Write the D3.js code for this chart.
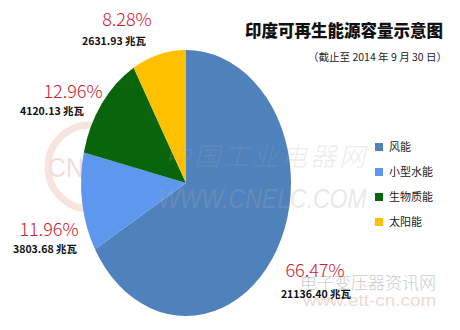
<!DOCTYPE html>
<html lang="zh">
<head>
  <meta charset="UTF-8">
  <title>印度可再生能源容量示意图</title>
  <style>
    body { margin: 0; background: #fff; }
    svg { display: block; }
  </style>
</head>
<body>
  <svg width="460" height="330"></svg>
  <script src="https://cdn.jsdelivr.net/npm/d3@7/dist/d3.min.js"></script>
  <script>
    // 数据
    var categories = ["风能", "小型水能", "生物质能", "太阳能"];
    var capacity = [21136.40, 3803.68, 4120.13, 2631.93];   // 兆瓦
    var shares = [66.47, 11.96, 12.96, 8.28];                // %
    var colors = ["#4f81bd", "#5e97ee", "#09650b", "#ffc000"];

    // 标签位置 (百分比文字中心, 数值文字中心)
    var labelPos = [
      { px: 315, py: 277, vx: 316, vy: 298 },
      { px: 49, py: 236, vx: 45, vy: 253 },
      { px: 73, py: 98, vx: 52, vy: 115 },
      { px: 127, py: 26, vx: 114, vy: 45 }
    ];

    var svg = d3.select("svg");
    var cx = 186, cy = 183, rx = 105, ry = 133;

    var data = categories.map(function (c, i) {
      return { name: c, cap: capacity[i], share: shares[i], color: colors[i] };
    });

    // 水印 logo
    var wm = svg.append("g").attr("class", "watermark");
    wm.append("circle").attr("cx", 90).attr("cy", 167).attr("r", 42)
      .attr("fill", "none").attr("stroke", "#f8e4df").attr("stroke-width", 7);
    wm.append("text").attr("x", 90).attr("y", 177).attr("text-anchor", "middle")
      .attr("font-family", "Liberation Sans, sans-serif").attr("font-size", 27)
      .attr("textLength", 84).attr("lengthAdjust", "spacingAndGlyphs")
      .attr("fill", "#f4ddd7").text("CNELC");

    // 饼图 (纵向拉伸的椭圆)
    var pie = d3.pie().sort(null).value(function (d) { return d.share; });
    var arc = d3.arc().innerRadius(0).outerRadius(ry);

    var g = svg.append("g")
      .attr("transform", "translate(" + cx + "," + cy + ") scale(" + (rx / ry) + ",1)");

    g.selectAll("path")
      .data(pie(data))
      .enter()
      .append("path")
      .attr("d", arc)
      .attr("fill", function (d) { return d.data.color; });

    // 水印 (覆盖在饼图上)
    wm = svg.append("g").attr("pointer-events", "none");
    wm.append("text").attr("x", 165).attr("y", 166)
      .attr("font-family", "Noto Sans CJK SC").attr("font-size", 26).attr("font-style", "italic")
      .attr("font-weight", 300).attr("letter-spacing", 3)
      .attr("fill", "#aaa").attr("opacity", 0.22).text("中国工业电器网");
    wm.append("text")
      .attr("transform", "translate(158,208) scale(1,1.22)")
      .attr("font-family", "Liberation Sans, sans-serif").attr("font-size", 23).attr("font-style", "italic")
      .attr("fill", "#aaa").attr("opacity", 0.25).text("WWW.CNELC.COM");
    wm.append("text").attr("x", 300).attr("y", 289)
      .attr("font-family", "Noto Sans CJK SC").attr("font-size", 17).attr("font-weight", 300)
      .attr("fill", "#999").attr("opacity", 0.5).text("电子变压器资讯网");
    wm.append("text")
      .attr("transform", "translate(303,306) scale(1.18,1)")
      .attr("font-family", "Liberation Sans, sans-serif").attr("font-size", 16)
      .attr("fill", "#e7b7bb").attr("opacity", 0.55).text("www.ett-cn.com");

    // 标签
    var labels = svg.append("g");
    labels.selectAll(".pct")
      .data(data)
      .enter()
      .append("text")
      .attr("class", "pct")
      .attr("x", function (d, i) { return labelPos[i].px; })
      .attr("y", function (d, i) { return labelPos[i].py; })
      .attr("text-anchor", "middle")
      .attr("font-family", "Noto Sans CJK SC")
      .attr("font-weight", 300)
      .attr("font-size", 18)
      .attr("fill", "#cf2030")
      .text(function (d) { return d.share.toFixed(2) + "%"; });

    labels.selectAll(".val")
      .data(data)
      .enter()
      .append("text")
      .attr("class", "val")
      .attr("x", function (d, i) { return labelPos[i].vx; })
      .attr("y", function (d, i) { return labelPos[i].vy; })
      .attr("text-anchor", "middle")
      .attr("font-family", "Noto Sans CJK SC")
      .attr("font-weight", "bold")
      .attr("font-size", 10.5)
      .attr("fill", "#111")
      .text(function (d) { return d.cap.toFixed(2) + " 兆瓦"; });

    // 标题
    svg.append("text")
      .attr("x", 443).attr("y", 37)
      .attr("text-anchor", "end")
      .attr("font-family", "Noto Sans CJK SC")
      .attr("font-weight", 900)
      .attr("font-size", 16.5)
      .attr("fill", "#111")
      .text("印度可再生能源容量示意图");
    svg.append("text")
      .attr("x", 447).attr("y", 61)
      .attr("text-anchor", "end")
      .attr("font-family", "Noto Sans CJK SC")
      .attr("font-size", 10.5)
      .attr("fill", "#222")
      .text("（截止至 2014 年 9 月 30 日）");

    // 图例
    var legend = svg.append("g").attr("transform", "translate(375,143)");
    var item = legend.selectAll("g")
      .data(data)
      .enter()
      .append("g")
      .attr("transform", function (d, i) { return "translate(0," + (i * 25) + ")"; });
    item.append("rect")
      .attr("width", 8).attr("height", 8)
      .attr("fill", function (d) { return d.color; });
    item.append("text")
      .attr("x", 14).attr("y", 8)
      .attr("font-family", "Noto Sans CJK SC")
      .attr("font-size", 11)
      .attr("fill", "#222")
      .text(function (d) { return d.name; });
  </script>
</body>
</html>
